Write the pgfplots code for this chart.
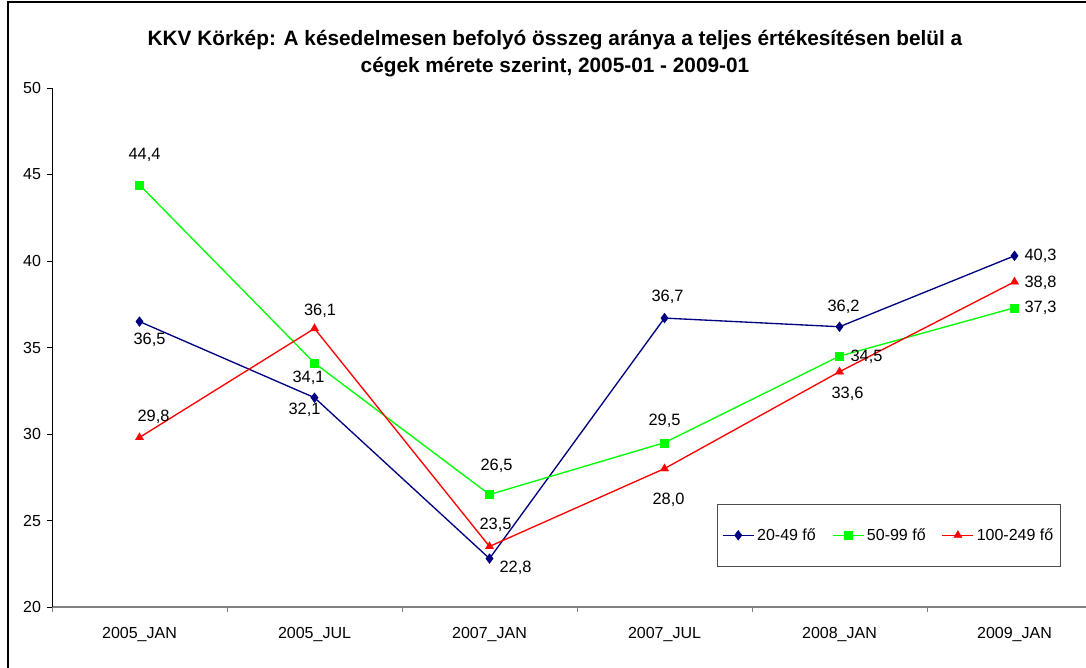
\documentclass[border=0pt]{standalone}
\usepackage{fontspec}
\setmainfont{Liberation Sans}
\usepackage{pgfplots}
\pgfplotsset{compat=1.18}
\usepackage{pgfplotstable}

\definecolor{navyc}{RGB}{0,0,128}
\definecolor{greenc}{RGB}{0,255,0}
\definecolor{redc}{RGB}{255,0,0}

\pgfplotstableread{
x y dx dy
0 36.5 10 -18
1 32.1 -10 -12
2 22.8 26 -9
3 36.7 3 21
4 36.2 4 19.5
5 40.3 26 0
}\tblA
\pgfplotstableread{
x y dx dy
0 44.4 5 30
1 34.1 -6 -15
2 26.5 7 29
3 29.5 0 22
4 34.5 27 -1
5 37.3 26 0
}\tblB
\pgfplotstableread{
x y dx dy
0 29.8 14 21
1 36.1 5.5 18
2 23.5 6 22
3 28.0 4 -31
4 33.6 8 -22
5 38.8 26 -1
}\tblC

\begin{document}
\begin{tikzpicture}
\begin{axis}[
  at={(39pt,45.75pt)}, anchor=south west,
  scale only axis, width=787.5pt, height=389.25pt,
  xmin=-0.5, xmax=5.5, ymin=20, ymax=50,
  clip=false,
  axis lines=left,
  axis line style={-},
  x axis line style={draw=black!50, line width=0.9pt},
  y axis line style={draw=black, line width=0.6pt},
  ytick={20,25,...,50},
  xtick={0,...,5},
  xticklabels={2005\_JAN,2005\_JUL,2007\_JAN,2007\_JUL,2008\_JAN,2009\_JAN},
  minor xtick={-0.5,0.5,...,5.5},
  major x tick style={draw=none},
  minor x tick style={draw=black!50, line width=0.6pt},
  major y tick style={draw=black, line width=0.6pt},
  tick align=outside,
  major tick length=3.75pt, minor tick length=3.75pt,
  /pgf/number format/assume math mode=true,
  tick label style={font=\fontsize{12}{14}\selectfont},
  xticklabel style={yshift=-8pt},
  yticklabel style={xshift=-1pt},
  point meta=explicit,
  nodes near coords={\pgfmathprintnumber[fixed,fixed zerofill,precision=1,use comma,assume math mode=true]{\pgfplotspointmeta}},
  visualization depends on={\thisrow{dx}\as\dx},
  visualization depends on={\thisrow{dy}\as\dy},
  nodes near coords style={anchor=center, inner sep=0pt, font=\fontsize{12.3}{14}\selectfont, text=black, xshift=\dx*0.75pt, yshift=\dy*0.75pt},
  legend style={at={(rel axis cs:0.6333,0.1985)}, anchor=north west,
    legend columns=3, draw=black!70, line width=0.6pt,
    font=\fontsize{12}{14}\selectfont, inner ysep=16pt, inner xsep=3.5pt,
    /tikz/every even column/.append style={column sep=10pt}},
  legend cell align=left,
  legend image code/.code={\draw[mark repeat=2,mark phase=2] plot coordinates {(0cm,0cm) (0.41cm,0cm) (0.82cm,0cm)};},
]
\addplot[navyc, line width=1pt, mark=diamond*, mark size=3.6pt, mark options={fill=navyc, line width=0.4pt}] table[x=x, y=y, meta=y] {\tblA};
\addlegendentry{20-49 fő}
\addplot[greenc, line width=1pt, mark=square*, mark size=3pt, mark options={fill=greenc, line width=0.2pt}] table[x=x, y=y, meta=y] {\tblB};
\addlegendentry{50-99 fő}
\addplot[redc, line width=1pt, mark=triangle*, mark size=3.6pt, mark options={fill=redc, line width=0.2pt}] table[x=x, y=y, meta=y] {\tblC};
\addlegendentry{100-249 fő}
\end{axis}
\node[anchor=base, font=\bfseries\fontsize{15.6}{18}\selectfont] at (416.25pt,466.5pt) {KKV Körkép: A késedelmesen befolyó összeg aránya a teljes értékesítésen belül a};
\node[anchor=base, font=\bfseries\fontsize{15.6}{18}\selectfont] at (416.25pt,446.25pt) {cégek mérete szerint, 2005-01 - 2009-01};
\draw[line width=1pt, black] (6pt,-20pt) rectangle (840pt,499.5pt);
\pgfresetboundingbox
\path[use as bounding box] (0pt,0pt) rectangle (814.5pt,501pt);
\end{tikzpicture}
\end{document}
